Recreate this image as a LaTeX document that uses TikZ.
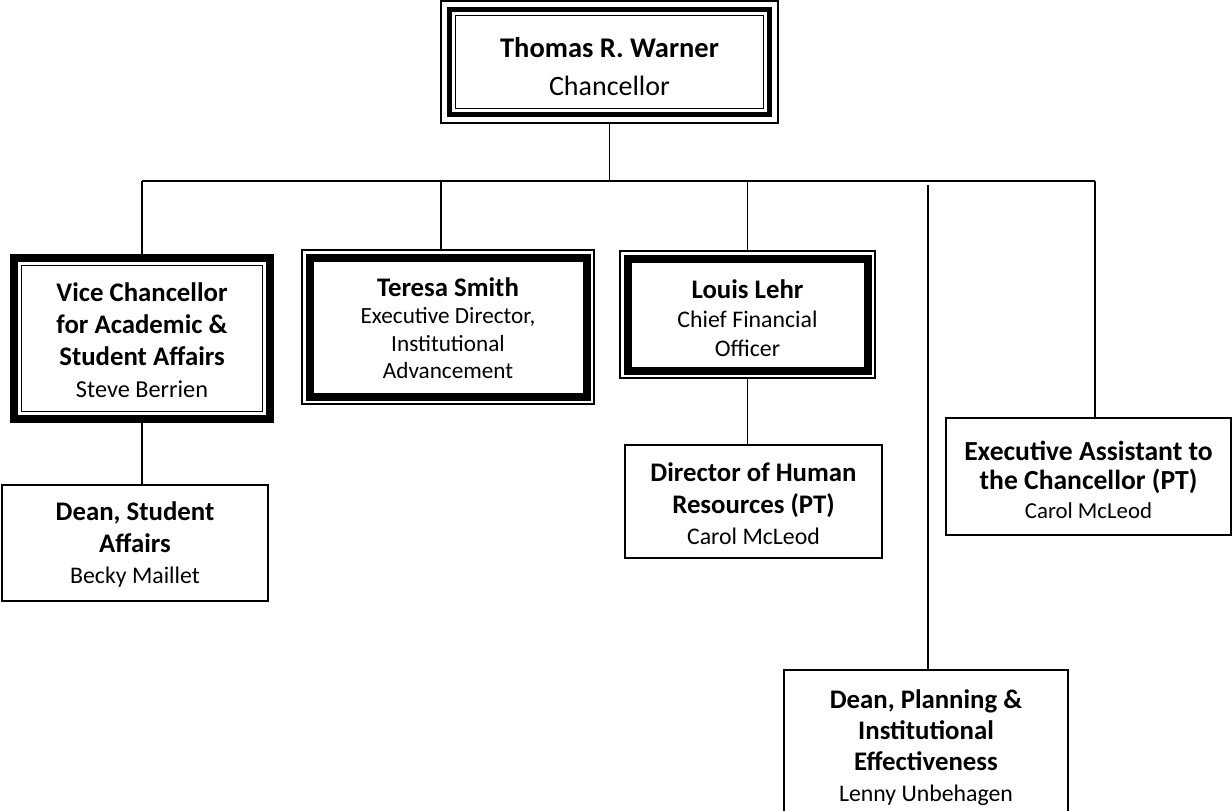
\documentclass[tikz,border=0pt]{standalone}
\usepackage{fontspec}
\setmainfont{Carlito}
\newcommand\boldline[1]{{\fontsize{26.8}{31}\selectfont\bfseries #1}}
\newcommand\bigboldline[1]{{\fontsize{28.5}{38}\selectfont\bfseries #1}}
\begin{document}
\begin{tikzpicture}[x=1pt,y=-1pt,
  box/.style 2 args={inner sep=0pt, outer sep=0pt,
    minimum width=#1, minimum height=#2},
  txt/.style={inner sep=0pt, align=center, font=\fontsize{23.8}{31}\selectfont},
  thinbox/.style={draw, line width=1.2pt},
  thickband/.style={line width=8pt},
  thinline/.style={line width=1.2pt},
  conn/.style={line width=1.4pt}]
\useasboundingbox (0,0) rectangle (1232,811);
\clip (0,0) rectangle (1232,811);

% Chancellor (triple border)
\node[box={337pt}{122pt}, thinbox, line width=1.3pt] (ch) at (609.5,62) {};
\draw[line width=5pt] ([shift={(8.5,8.5)}]ch.north west) rectangle ([shift={(-8.5,-8.5)}]ch.south east);
\draw[thinline] ([shift={(14.5,14.5)}]ch.north west) rectangle ([shift={(-14.5,-14.5)}]ch.south east);
\node[txt, font=\fontsize{28}{38}\selectfont] (cht) at ([shift={(0,5)}]ch.center)
  {\bigboldline{Thomas R. Warner}\\Chancellor};

% Vice Chancellor (thick-thin)
\node[box={264pt}{169pt}] (vc) at (142,338.5) {};
\draw[thickband] ([shift={(4,4)}]vc.north west) rectangle ([shift={(-4,-4)}]vc.south east);
\draw[thinline] ([shift={(11.5,11.5)}]vc.north west) rectangle ([shift={(-11.5,-11.5)}]vc.south east);
\node[txt, font=\fontsize{24.3}{32}\selectfont] (vct) at ([shift={(0,2)}]vc.center)
  {\boldline{Vice Chancellor}\\\boldline{for Academic \&}\\\boldline{Student Affairs}\\Steve Berrien};

% Teresa Smith (thin-thick)
\node[box={292pt}{154pt}, thinbox] (ts) at (448,327) {};
\draw[thickband] ([shift={(7.5,7.5)}]ts.north west) rectangle ([shift={(-7.5,-7.5)}]ts.south east);
\node[txt, font=\fontsize{23.2}{27.5}\selectfont] (tst) at ([shift={(0,1)}]ts.center)
  {\boldline{Teresa Smith}\\Executive Director,\\Institutional\\Advancement};

% Louis Lehr (thin-thick)
\node[box={255pt}{127pt}, thinbox] (ll) at (747.5,314.5) {};
\draw[thickband] ([shift={(7.5,7.5)}]ll.north west) rectangle ([shift={(-7.5,-7.5)}]ll.south east);
\node[txt, font=\fontsize{23.8}{29}\selectfont] (llt) at ([shift={(0,4)}]ll.center)
  {\boldline{Louis Lehr}\\Chief Financial\\Officer};

% Plain boxes
\node[box={266pt}{116pt}, thinbox] (ds) at (135,543) {};
\node[txt, font=\fontsize{23.8}{31.5}\selectfont] (dst) at ([shift={(0,2)}]ds.center)
  {\boldline{Dean, Student}\\\boldline{Affairs}\\Becky Maillet};
\node[box={257pt}{113pt}, thinbox] (hr) at (753.5,501.5) {};
\node[txt, font=\fontsize{23.8}{31.5}\selectfont] (hrt) at ([shift={(0,2.5)}]hr.center)
  {\boldline{Director of Human}\\\boldline{Resources (PT)}\\Carol McLeod};
\node[box={285pt}{117pt}, thinbox] (ea) at (1088.5,476.5) {};
\node[txt, font=\fontsize{22.8}{29}\selectfont] (eat) at ([shift={(0,3)}]ea.center)
  {{\fontsize{27.6}{29}\selectfont\bfseries Executive Assistant to}\\{\fontsize{27.6}{29}\selectfont\bfseries the Chancellor (PT)}\\Carol McLeod};
\node[box={284pt}{152pt}, thinbox] (pl) at (926,746) {};
\node[txt, font=\fontsize{23.8}{31}\selectfont] (plt) at ([shift={(0,2)}]pl.center)
  {\boldline{Dean, Planning \&}\\\boldline{Institutional}\\\boldline{Effectiveness}\\Lenny Unbehagen};

% Connectors
\coordinate (hl) at (142,181);
\coordinate (hr2) at (1095,181);
\coordinate (tsj) at (441,181);
\coordinate (plj) at (928,185);
\draw[conn] (ch.south) -- (ch.south |- hl);
\draw[conn] (hl) -- (hr2);
\draw[conn] (hl) -- (hl |- vc.north);
\draw[conn] (tsj) -- (tsj |- ts.north);
\draw[conn] (ll.north |- hl) -- (ll.north);
\draw[conn] (hr2) -- (hr2 |- ea.north);
\draw[conn] (plj) -- (plj |- pl.north);
\draw[conn] (vc.south) -- (vc.south |- ds.north);
\draw[conn] (ll.south) -- (ll.south |- hr.north);
\end{tikzpicture}
\end{document}
